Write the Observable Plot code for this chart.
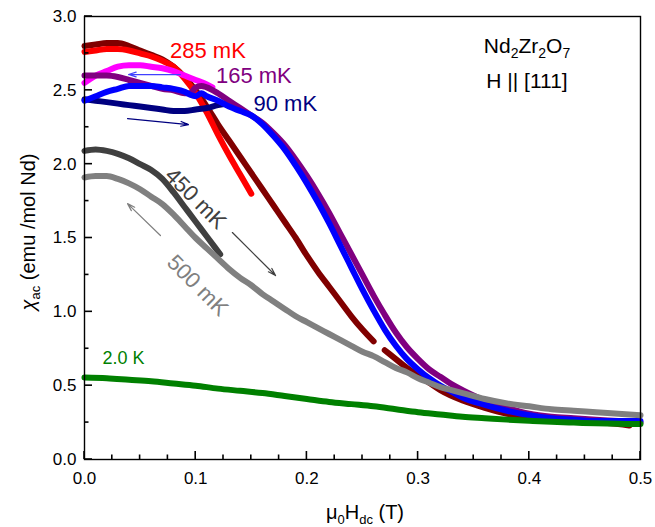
<!DOCTYPE html>
<html>
<head>
<meta charset="utf-8">
<script src="https://cdn.jsdelivr.net/npm/d3@7"></script>
<script src="https://cdn.jsdelivr.net/npm/@observablehq/plot@0.6"></script>
<style>
  body { margin: 0; background: #fff; }
  #chart svg { font-family: "Liberation Sans", Arial, sans-serif; background: #fff; }
</style>
</head>
<body>
<div id="chart"></div>
<script>
// ---- data (field in T, chi_ac in emu/mol Nd) ----
const field285a = [0, 0.01, 0.02, 0.03, 0.04, 0.05, 0.06, 0.07, 0.08, 0.09, 0.10, 0.11, 0.12, 0.13, 0.14, 0.15];
const chi285a   = [2.76, 2.77, 2.78, 2.78, 2.77, 2.75, 2.73, 2.70, 2.66, 2.58, 2.48, 2.35, 2.20, 2.06, 1.93, 1.80];

const field285b = [0, 0.01, 0.02, 0.03, 0.04, 0.05, 0.06, 0.07, 0.08, 0.09, 0.10, 0.11, 0.12, 0.13, 0.14, 0.15, 0.16, 0.17, 0.18, 0.19, 0.20, 0.21, 0.22, 0.23, 0.24, 0.25, 0.26, 0.265, 0.27, 0.28, 0.29, 0.30, 0.31, 0.32, 0.34, 0.36, 0.38, 0.40, 0.44, 0.48, 0.49];
const chi285b   = [2.80, 2.81, 2.82, 2.82, 2.80, 2.77, 2.74, 2.71, 2.66, 2.59, 2.50, 2.39, 2.27, 2.16, 2.05, 1.94, 1.83, 1.72, 1.61, 1.50, 1.38, 1.27, 1.17, 1.07, 0.97, 0.88, 0.80, NaN, 0.74, 0.68, 0.62, 0.57, 0.52, 0.47, 0.40, 0.35, 0.31, 0.29, 0.26, 0.24, 0.23];

const field165a = [0, 0.01, 0.02, 0.03, 0.04, 0.05, 0.06, 0.07, 0.08, 0.09, 0.10, 0.11, 0.115];
const chi165a   = [2.55, 2.60, 2.63, 2.66, 2.67, 2.67, 2.66, 2.65, 2.63, 2.60, 2.57, 2.54, 2.52];

const field165b = [0, 0.01, 0.02, 0.03, 0.04, 0.05, 0.06, 0.07, 0.08, 0.09, 0.095, 0.10, 0.105, 0.11, 0.12, 0.13, 0.14, 0.15, 0.16, 0.17, 0.18, 0.19, 0.20, 0.21, 0.22, 0.23, 0.24, 0.25, 0.26, 0.27, 0.28, 0.29, 0.30, 0.31, 0.32, 0.33, 0.34, 0.36, 0.38, 0.40, 0.42, 0.44, 0.46, 0.48, 0.50];
const chi165b   = [2.60, 2.60, 2.60, 2.59, 2.57, 2.55, 2.53, 2.51, 2.50, 2.48, 2.48, 2.52, 2.53, 2.52, 2.48, 2.43, 2.38, 2.33, 2.28, 2.21, 2.13, 2.03, 1.92, 1.80, 1.67, 1.53, 1.39, 1.25, 1.11, 0.98, 0.86, 0.76, 0.68, 0.61, 0.56, 0.51, 0.47, 0.40, 0.35, 0.31, 0.29, 0.28, 0.27, 0.26, 0.25];

const field90a = [0, 0.01, 0.02, 0.03, 0.04, 0.05, 0.06, 0.07, 0.08, 0.09, 0.10, 0.11, 0.12, 0.13];
const chi90a   = [2.44, 2.43, 2.42, 2.41, 2.40, 2.39, 2.38, 2.37, 2.36, 2.36, 2.37, 2.38, 2.40, 2.41];

const field90b = [0, 0.01, 0.02, 0.03, 0.04, 0.05, 0.06, 0.07, 0.08, 0.09, 0.095, 0.10, 0.105, 0.11, 0.12, 0.13, 0.14, 0.15, 0.16, 0.17, 0.18, 0.19, 0.20, 0.21, 0.22, 0.23, 0.24, 0.25, 0.26, 0.27, 0.28, 0.29, 0.30, 0.31, 0.32, 0.33, 0.34, 0.36, 0.38, 0.40, 0.42, 0.44, 0.46, 0.48, 0.50];
const chi90b   = [2.43, 2.46, 2.49, 2.51, 2.53, 2.53, 2.53, 2.52, 2.51, 2.49, 2.47, 2.46, 2.48, 2.46, 2.43, 2.39, 2.36, 2.33, 2.27, 2.19, 2.10, 1.99, 1.87, 1.74, 1.60, 1.45, 1.30, 1.15, 1.01, 0.88, 0.77, 0.68, 0.61, 0.55, 0.50, 0.46, 0.42, 0.37, 0.33, 0.30, 0.28, 0.27, 0.26, 0.26, 0.26];

const field450 = [0, 0.01, 0.02, 0.03, 0.04, 0.05, 0.06, 0.07, 0.08, 0.09, 0.10, 0.11, 0.12, 0.122];
const chi450   = [2.09, 2.10, 2.09, 2.07, 2.04, 2.00, 1.96, 1.90, 1.81, 1.71, 1.61, 1.51, 1.41, 1.39];

const field500 = [0, 0.01, 0.02, 0.03, 0.04, 0.05, 0.06, 0.07, 0.08, 0.09, 0.10, 0.11, 0.12, 0.13, 0.14, 0.15, 0.16, 0.17, 0.18, 0.19, 0.20, 0.21, 0.22, 0.23, 0.24, 0.25, 0.26, 0.27, 0.28, 0.29, 0.30, 0.31, 0.32, 0.33, 0.34, 0.36, 0.38, 0.40, 0.42, 0.44, 0.46, 0.48, 0.50];
const chi500   = [1.91, 1.92, 1.92, 1.90, 1.87, 1.83, 1.78, 1.73, 1.66, 1.58, 1.50, 1.43, 1.36, 1.29, 1.23, 1.18, 1.12, 1.07, 1.02, 0.97, 0.93, 0.89, 0.85, 0.81, 0.77, 0.73, 0.70, 0.66, 0.62, 0.59, 0.55, 0.52, 0.49, 0.47, 0.45, 0.41, 0.38, 0.36, 0.34, 0.33, 0.32, 0.31, 0.30];

const field2K = [0, 0.02, 0.04, 0.06, 0.08, 0.10, 0.12, 0.14, 0.16, 0.18, 0.20, 0.22, 0.24, 0.26, 0.28, 0.30, 0.32, 0.34, 0.36, 0.38, 0.40, 0.42, 0.44, 0.46, 0.48, 0.50];
const chi2K   = [0.555, 0.55, 0.54, 0.53, 0.515, 0.50, 0.48, 0.465, 0.45, 0.43, 0.41, 0.39, 0.375, 0.36, 0.34, 0.32, 0.305, 0.29, 0.28, 0.27, 0.262, 0.255, 0.25, 0.245, 0.242, 0.24];

// series, in drawing order (bottom to top)
const seriesNames  = ["285b", "285a", "90a", "165a", "165b", "90b", "450", "500", "2K"];
const seriesFields = [field285b, field285a, field90a, field165a, field165b, field90b, field450, field500, field2K];
const seriesChi    = [chi285b, chi285a, chi90a, chi165a, chi165b, chi90b, chi450, chi500, chi2K];
const seriesColors = ["#800000", "#ff0000", "#000080", "#ff00ff", "#800080", "#0000ff", "#404040", "#808080", "#008000"];

// curve labels
const labelText   = ["285 mK", "165 mK", "90 mK", "450 mK", "500 mK"];
const labelField  = [0.111, 0.1523, 0.1806, 0.0998, 0.1016];
const labelChi    = [2.764, 2.60, 2.408, 1.767, 1.178];
const labelColor  = ["#ff0000", "#800080", "#000080", "#404040", "#808080"];
const labelRotate = [0, 0, 0, 45, 45];

const label2KText = ["2.0 K"];
const label2KField = [0.0162];
const label2KChi = [0.686];

// sweep-direction arrows
const arrowX1 = [0.0863, 0.0387, 0.0683, 0.133];
const arrowY1 = [2.607, 2.309, 1.517, 1.537];
const arrowX2 = [0.0396, 0.0935, 0.0387, 0.1718];
const arrowY2 = [2.607, 2.268, 1.733, 1.246];
const arrowColor = ["#4040ff", "#000080", "#808080", "#404040"];

// ticks
const xMajor = [0, 0.1, 0.2, 0.3, 0.4, 0.5];
const xMinor = [0.025, 0.05, 0.075, 0.125, 0.15, 0.175, 0.225, 0.25, 0.275, 0.325, 0.35, 0.375, 0.425, 0.45, 0.475];
const yMajor = [0, 0.5, 1.0, 1.5, 2.0, 2.5, 3.0];
const yMinor = [0.25, 0.75, 1.25, 1.75, 2.25, 2.75];

// ---- layout ----
const W = 655, H = 527, mL = 84, mR = 15, mT = 16, mB = 68;

// ---- build tables ----
const rows = [];
seriesNames.forEach((name, i) => {
  seriesFields[i].forEach((h, j) => rows.push({series: name, order: i, h, chi: seriesChi[i][j], color: seriesColors[i]}));
});
const labels = labelText.map((t, i) => ({t, h: labelField[i], chi: labelChi[i], color: labelColor[i], rot: labelRotate[i]}));
const labels2K = label2KText.map((t, i) => ({t, h: label2KField[i], chi: label2KChi[i]}));
const arrows = arrowX1.map((x1, i) => ({x1, y1: arrowY1[i], x2: arrowX2[i], y2: arrowY2[i], color: arrowColor[i]}));

const lineMarks = seriesNames.map((name, i) =>
  Plot.line(rows.filter(r => r.series === name), {
    x: "h", y: "chi", stroke: seriesColors[i], strokeWidth: 6, curve: "monotone-x",
    strokeLinecap: "round", strokeLinejoin: "round"
  })
);

const chart = Plot.plot({
  width: W,
  height: H,
  marginLeft: mL,
  marginRight: mR,
  marginTop: mT,
  marginBottom: mB,
  style: {fontFamily: "'Liberation Sans', Arial, sans-serif", background: "#fff", color: "#000"},
  x: {domain: [0, 0.5], label: null},
  y: {domain: [0, 3], label: null},
  marks: [
    ...lineMarks,
    Plot.arrow(arrows, {x1: "x1", y1: "y1", x2: "x2", y2: "y2", stroke: "color", strokeWidth: 1.2, headLength: 10, headAngle: 35}),
    Plot.text(labels, {x: "h", y: "chi", text: "t", fill: "color", rotate: "rot", fontSize: 22, textAnchor: "middle"}),
    Plot.text(labels2K, {x: "h", y: "chi", text: "t", fill: "#008000", fontSize: 18, textAnchor: "start"}),
    Plot.frame({stroke: "#000", strokeWidth: 1.4}),
    Plot.axisX({ticks: xMajor, tickSize: 0, tickPadding: 12, tickFormat: d => d.toFixed(1), fontSize: 17, label: null}),
    Plot.axisY({ticks: yMajor, tickSize: 0, tickPadding: 8, tickFormat: d => d.toFixed(1), fontSize: 17, label: null})
  ]
});

document.getElementById("chart").appendChild(chart);

// ---- inward tick marks positioned with Plot's own scales ----
const svg = d3.select(chart);
const sx = chart.scale("x"), sy = chart.scale("y");
const x0 = mL, y0 = H - mB;
const tickG = svg.append("g").attr("stroke", "#000").attr("stroke-width", 1.6);
xMajor.forEach(v => { const px = sx.apply(v); tickG.append("line").attr("x1", px).attr("x2", px).attr("y1", y0).attr("y2", y0 - 8); });
xMinor.forEach(v => { const px = sx.apply(v); tickG.append("line").attr("x1", px).attr("x2", px).attr("y1", y0).attr("y2", y0 - 4.5); });
yMajor.forEach(v => { const py = sy.apply(v); tickG.append("line").attr("x1", x0).attr("x2", x0 + 8).attr("y1", py).attr("y2", py); });
yMinor.forEach(v => { const py = sy.apply(v); tickG.append("line").attr("x1", x0).attr("x2", x0 + 4.5).attr("y1", py).attr("y2", py); });

// ---- texts with subscripts ----
const font = "'Liberation Sans', Arial, sans-serif";

const yTitle = svg.append("text")
  .attr("transform", "translate(35,232) rotate(-90)")
  .attr("text-anchor", "middle").attr("font-size", 20).attr("font-family", font).attr("fill", "#000");
yTitle.append("tspan").attr("font-style", "italic").text("χ");
yTitle.append("tspan").attr("font-size", 13).attr("dy", 5).text("ac");
yTitle.append("tspan").attr("dy", -5).text(" (emu /mol Nd)");

const xTitle = svg.append("text")
  .attr("x", 365).attr("y", 519)
  .attr("text-anchor", "middle").attr("font-size", 20).attr("font-family", font).attr("fill", "#000");
xTitle.append("tspan").text("μ");
xTitle.append("tspan").attr("font-size", 13).attr("dy", 5).text("0");
xTitle.append("tspan").attr("dy", -5).text("H");
xTitle.append("tspan").attr("font-size", 13).attr("dy", 5).text("dc");
xTitle.append("tspan").attr("dy", -5).text(" (T)");

const comp = svg.append("text")
  .attr("x", 527).attr("y", 53)
  .attr("font-size", 21).attr("font-family", font).attr("fill", "#000");
comp.append("tspan").text("Nd");
comp.append("tspan").attr("font-size", 14).attr("dy", 5).text("2");
comp.append("tspan").attr("dy", -5).text("Zr");
comp.append("tspan").attr("font-size", 14).attr("dy", 5).text("2");
comp.append("tspan").attr("dy", -5).text("O");
comp.append("tspan").attr("font-size", 14).attr("dy", 5).text("7");

svg.append("text")
  .attr("x", 527).attr("y", 88)
  .attr("font-size", 21).attr("font-family", font).attr("fill", "#000")
  .text("H || [111]");
</script>
</body>
</html>
